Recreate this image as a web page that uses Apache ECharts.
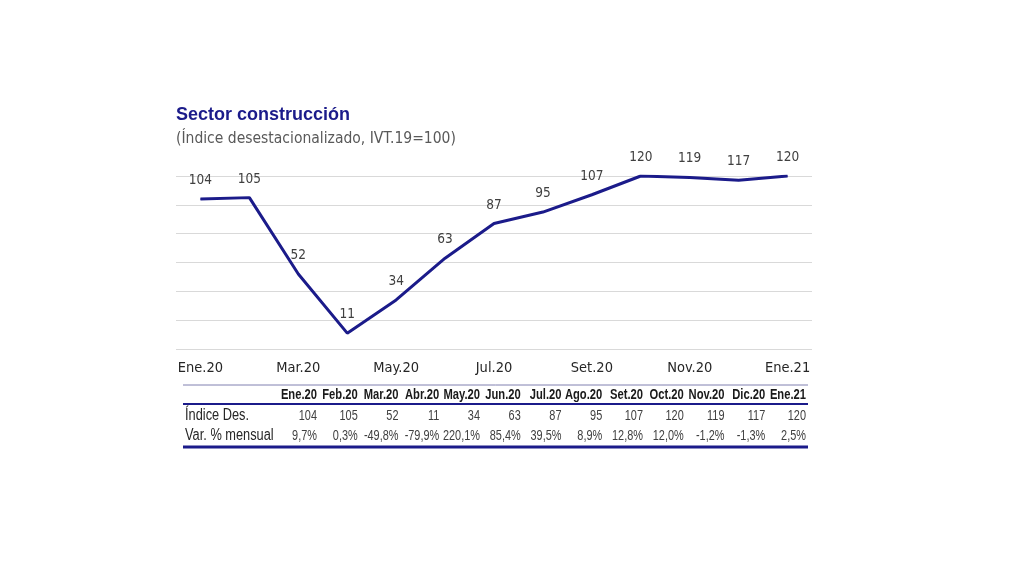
<!DOCTYPE html>
<html>
<head>
<meta charset="utf-8">
<script src="https://cdn.jsdelivr.net/npm/echarts@6/dist/echarts.min.js"></script>
<style>
html,body{margin:0;padding:0;background:#fff;}
#c{width:1024px;height:576px;}
</style>
</head>
<body>
<div id="c"></div>
<script>
const titleText = 'Sector construcción';
const subtitleText = '(Índice desestacionalizado, IVT.19=100)';
const months = ['Ene.20','Feb.20','Mar.20','Abr.20','May.20','Jun.20','Jul.20','Ago.20','Set.20','Oct.20','Nov.20','Dic.20','Ene.21'];
const indexValues = [104,105,52,11,34,63,87,95,107,120,119,117,120];
const monthlyVar = [9.7,0.3,-49.8,-79.9,220.1,85.4,39.5,8.9,12.8,12.0,-1.2,-1.3,2.5];
const rowLabels = ['Índice Des.','Var. % mensual'];

const COND = '"DejaVu Sans Condensed","Liberation Sans",sans-serif';
const ARIAL = '"Liberation Sans",Arial,sans-serif';
const NAVY = '#1b1b8a';

const chart = echarts.init(document.getElementById('c'));

// table built from the arrays
const tbl = [];
const colRight0 = 317, colStep = 40.75;
const fmtPct = v => v.toFixed(1).replace('.', ',') + '%';
function txt(x, y, s, font, fill, align, sx) {
  return {type:'text', x:x, y:y, scaleX:sx, style:{x:0, y:0, text:s, align:align, verticalAlign:'middle', font:font, fill:fill}};
}
months.forEach((m, i) => {
  const x = colRight0 + colStep * i;
  tbl.push(txt(x, 395, m, 'bold 14px ' + ARIAL, '#1a1a1a', 'right', 0.8));
  tbl.push(txt(x, 416, String(indexValues[i]), '14px ' + ARIAL, '#404040', 'right', 0.78));
  tbl.push(txt(x, 436, fmtPct(monthlyVar[i]), '14px ' + ARIAL, '#404040', 'right', 0.78));
});
tbl.push(txt(185, 416, rowLabels[0], '16px ' + ARIAL, '#262626', 'left', 0.8));
tbl.push(txt(185, 436, rowLabels[1], '16px ' + ARIAL, '#262626', 'left', 0.8));
tbl.push({type:'line', shape:{x1:183, y1:385, x2:808, y2:385}, style:{stroke:'#8080b0', lineWidth:1}});
tbl.push({type:'line', shape:{x1:183, y1:404, x2:808, y2:404}, style:{stroke:NAVY, lineWidth:2}});
tbl.push({type:'line', shape:{x1:183, y1:447, x2:808, y2:447}, style:{stroke:NAVY, lineWidth:3}});

chart.setOption({
  animation:false,
  backgroundColor:'#ffffff',
  title:[
    {text:titleText, left:176, top:106, padding:0, textStyle:{fontFamily:ARIAL, fontSize:18, fontWeight:'bold', color:NAVY}},
    {text:subtitleText, left:176, top:131, padding:0, textStyle:{fontFamily:COND, fontSize:15.5, fontWeight:'normal', color:'#595959'}}
  ],
  grid:{left:176, right:212, top:176, bottom:227},
  xAxis:{
    type:'category', data:months, boundaryGap:true,
    axisLine:{show:false}, axisTick:{show:false},
    axisLabel:{interval:1, margin:12, fontFamily:COND, fontSize:14.5, color:'#262626'}
  },
  yAxis:{
    type:'value', min:0, max:120, interval:20,
    axisLabel:{show:false}, axisLine:{show:false}, axisTick:{show:false},
    splitLine:{lineStyle:{color:'#d9d9d9', width:1}}
  },
  series:[{
    type:'line', data:indexValues, symbol:'circle', symbolSize:1, showSymbol:true,
    itemStyle:{color:NAVY},
    lineStyle:{color:NAVY, width:3},
    label:{show:true, position:'top', distance:11, fontFamily:COND, fontSize:13.5, color:'#404040'}
  }],
  graphic:tbl
});
</script>
</body>
</html>
